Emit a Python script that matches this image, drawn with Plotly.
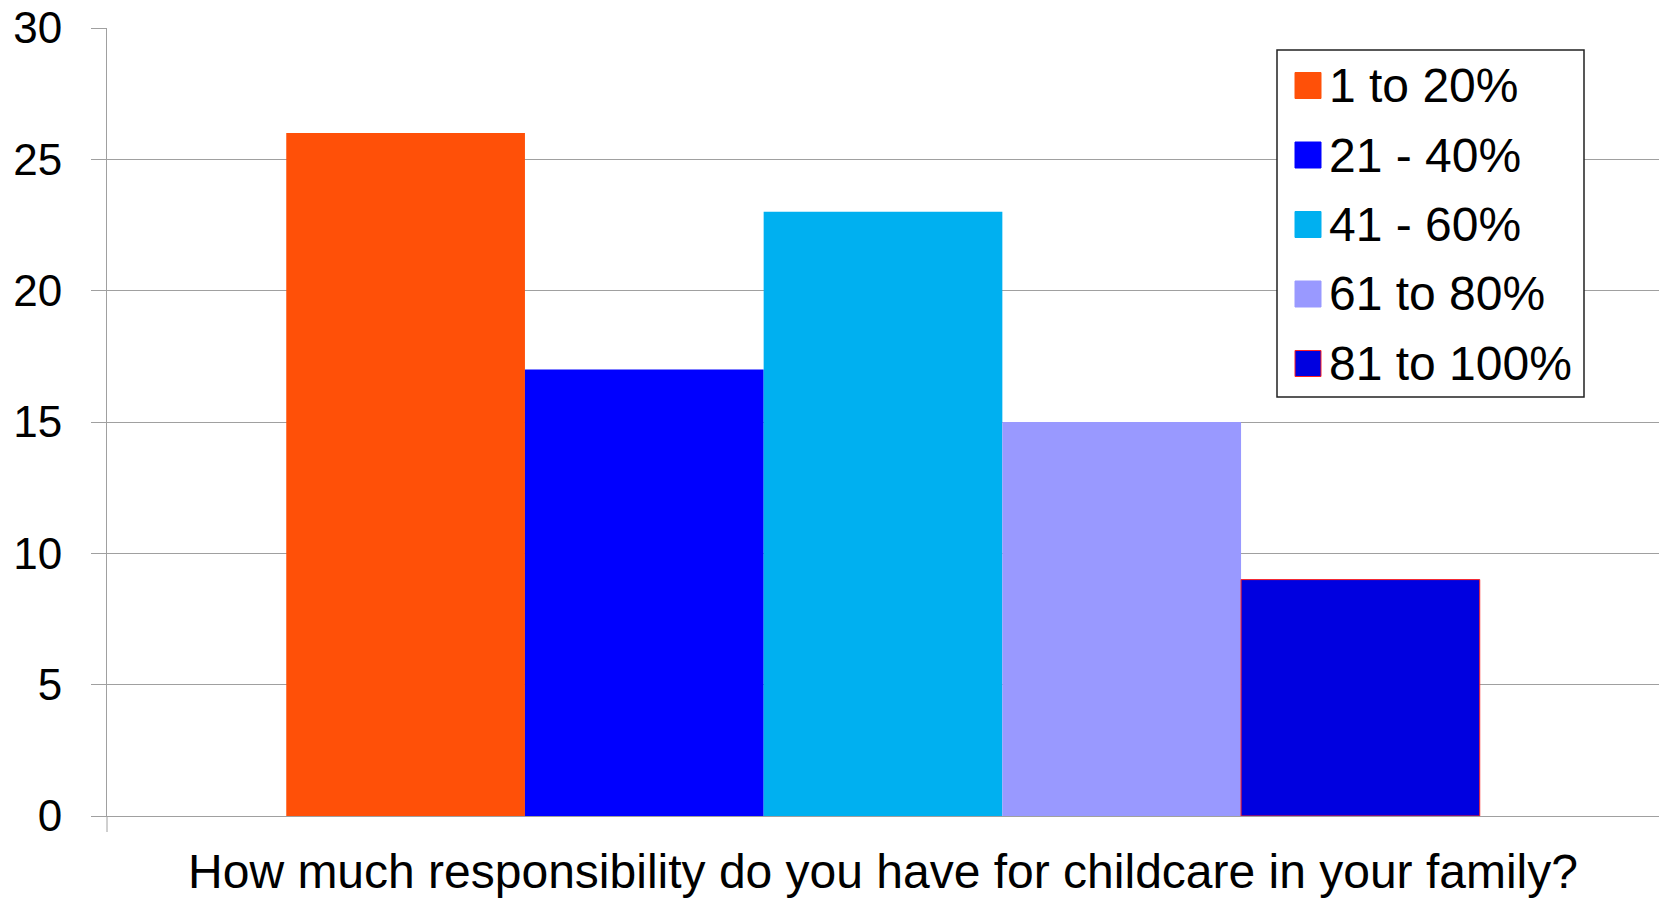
import plotly.graph_objects as go

# Survey responses by share of childcare responsibility
question = "How much responsibility do you have for childcare in your family?"
bands = ["1 to 20%", "21 - 40%", "41 - 60%", "61 to 80%", "81 to 100%"]
counts = [26, 17, 23, 15, 9]
colors = ["#FF5008", "#0000FF", "#00B0F0", "#9999FF", "#0000E0"]
edge_colors = [None, None, None, None, "#FF2020"]

FONT = "Liberation Sans, Arial, sans-serif"
GRID = "#A0A0A0"

W, H = 1659, 900
ML, MR, MT, MB = 107, 0, 28, 84
PW, PH = W - ML - MR, H - MT - MB


def paper_x(px):
    return (px - ML) / PW


def paper_y(py):
    return (H - MB - py) / PH


fig = go.Figure()
for name, val, col, edge in zip(bands, counts, colors, edge_colors):
    fig.add_trace(go.Bar(
        x=[question], y=[val], name=name,
        marker=dict(color=col,
                    line=dict(color=edge or col, width=1 if edge else 0)),
        showlegend=False,
    ))

shapes = []
annotations = []

# vertical axis line continues a little below the baseline
shapes.append(dict(type="line", xref="paper", yref="paper",
                   x0=0, x1=0, y0=0, y1=-16 / PH,
                   line=dict(color=GRID, width=1)))

# legend box
shapes.append(dict(type="rect", xref="paper", yref="paper", layer="above",
                   x0=paper_x(1277), x1=paper_x(1584),
                   y0=paper_y(397), y1=paper_y(50),
                   fillcolor="white", line=dict(color="#222222", width=1.5)))

row0, step, sw = 85.5, 69.5, 26
for i, (name, col, edge) in enumerate(zip(bands, colors, edge_colors)):
    cy = row0 + i * step
    shapes.append(dict(type="rect", xref="paper", yref="paper", layer="above",
                       x0=paper_x(1295), x1=paper_x(1295 + sw),
                       y0=paper_y(cy + sw / 2), y1=paper_y(cy - sw / 2),
                       fillcolor=col,
                       line=dict(color=edge or col, width=1)))
    annotations.append(dict(xref="paper", yref="paper",
                            x=paper_x(1327), y=paper_y(cy),
                            xanchor="left", yanchor="middle",
                            text=name, showarrow=False,
                            font=dict(family=FONT, size=48, color="black")))

fig.update_layout(
    width=W, height=H,
    margin=dict(l=ML, r=MR, t=MT, b=MB),
    paper_bgcolor="white", plot_bgcolor="white",
    barmode="group", bargap=0.231, bargroupgap=0,
    font=dict(family=FONT, color="black"),
    shapes=shapes, annotations=annotations,
    showlegend=False,
    xaxis=dict(showgrid=False, zeroline=False,
               showline=True, linecolor=GRID, linewidth=1,
               ticks="", tickfont=dict(family=FONT, size=48, color="black"),
               ticklabelstandoff=13),
    yaxis=dict(range=[0, 30], dtick=5, tick0=0,
               showgrid=True, gridcolor=GRID, gridwidth=1,
               zeroline=False, showline=True, linecolor=GRID, linewidth=1,
               ticks="outside", ticklen=15, tickcolor=GRID, tickwidth=1,
               tickfont=dict(family=FONT, size=44, color="black"),
               ticklabelstandoff=20),
)

fig.write_html("out.html")
